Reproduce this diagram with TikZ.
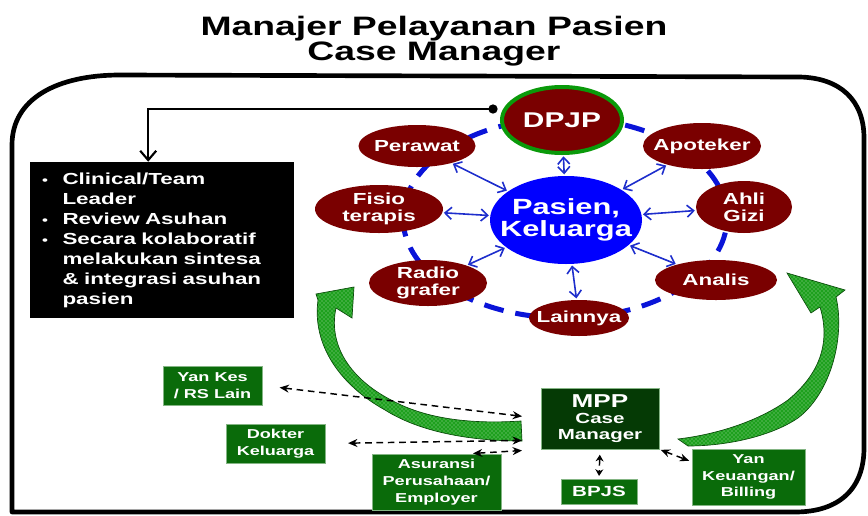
\documentclass[tikz,border=0pt]{standalone}
\usepackage{fontspec}
\setmainfont{Liberation Sans}[FakeStretch=1.4]
\usepackage{xcolor}
\usepackage{tikz}
\usetikzlibrary{arrows.meta, shapes.geometric, patterns}

\definecolor{staffred}{HTML}{7A0000}
\definecolor{pasienblue}{HTML}{0000FF}
\definecolor{ringblue}{HTML}{0A14D8}
\definecolor{spokeblue}{HTML}{1E2ECC}
\definecolor{dpjpgreen}{HTML}{0A9A0A}
\definecolor{boxgreen}{HTML}{0A6B0A}
\definecolor{mppgreen}{HTML}{053A05}
\definecolor{arrowgreen}{HTML}{1EA01E}
\definecolor{arrowdark}{HTML}{0A4A0A}

\begin{document}
\begin{tikzpicture}[x=0.75pt, y=-0.75pt,
    every node/.style={font=\bfseries, text=white},
    staff/.style={ellipse, fill=staffred, inner xsep=-8pt, inner ysep=0pt, align=center, font=\bfseries\fontsize{12}{13}\selectfont},
    spoke/.style={draw=spokeblue, line width=1.2pt, >={Straight Barb[length=5pt,width=9pt]}, <->, shorten >=1pt, shorten <=1pt},
    unit/.style={rectangle, fill=boxgreen, draw=boxgreen!50!white, line width=0.6pt, inner sep=0pt, align=center, font=\bfseries\fontsize{9.7}{12.5}\selectfont},
    link/.style={draw=black, dash pattern=on 5pt off 3.5pt, line width=1.1pt, >={Stealth[length=7pt,width=6pt]}, <->},
    curvearrow/.style={preaction={fill=arrowgreen}, pattern=crosshatch dots, pattern color=white!60!arrowgreen, draw=arrowdark, line width=0.5pt}
]
    \useasboundingbox (0,0) rectangle (868,515);

    % Title
    \node[text=black, font=\bfseries\fontsize{20}{19}\selectfont, align=center, inner sep=0pt] (title) at (434,41) {Manajer Pelayanan Pasien\\Case Manager};

    % Outer frame
    \draw[line width=3.5pt, line join=round] (12,512) -- (12,145) .. controls (12,98) and (58,75) .. (120,75) -- (800,77) .. controls (840,78) and (864,100) .. (864,138) -- (864,448) .. controls (864,488) and (840,512) .. (795,512) -- cycle;

    % Dashed ring of the care team
    \draw[ringblue, line width=3.75pt, dash pattern=on 15pt off 9pt] (565,218) ellipse [x radius=121.5pt, y radius=75pt];

    % Team members
    \node[staff, draw=dpjpgreen, line width=3pt, minimum width=90pt, minimum height=49.5pt, font=\bfseries\fontsize{16}{18}\selectfont] (dpjp) at (562,120) {DPJP};
    \node[staff, minimum width=87.75pt, minimum height=31.5pt] (perawat) at (417,146) {Perawat};
    \node[staff, minimum width=88.5pt, minimum height=34.5pt] (apoteker) at (702,146) {Apoteker};
    \node[staff, minimum width=96pt, minimum height=36pt] (fisio) at (379,209) {Fisio\\terapis};
    \node[staff, minimum width=72pt, minimum height=39pt] (gizi) at (744,207) {Ahli\\Gizi};
    \node[staff, minimum width=88.5pt, minimum height=34.5pt] (radio) at (428,283) {Radio\\grafer};
    \node[staff, minimum width=91.5pt, minimum height=30pt] (analis) at (716,280) {Analis};
    \node[staff, minimum width=75pt, minimum height=27pt] (lainnya) at (579,318) {Lainnya};
    \node[ellipse, fill=pasienblue, minimum width=114pt, minimum height=66pt, inner xsep=-10pt, inner ysep=0pt, align=center, font=\bfseries\fontsize{16.5}{16.5}\selectfont] (pasien) at (566,220) {Pasien,\\Keluarga};

    % Links patient <-> team
    \draw[spoke] (pasien) -- (dpjp);
    \draw[spoke] (pasien) -- (perawat);
    \draw[spoke] (pasien) -- (apoteker);
    \draw[spoke] (pasien) -- (fisio);
    \draw[spoke] (pasien) -- (gizi);
    \draw[spoke] (pasien) -- (radio);
    \draw[spoke] (pasien) -- (analis);
    \draw[spoke] (pasien) -- (lainnya);

    % Clinical leader box
    \node[fill=black, minimum width=198pt, minimum height=117pt, inner xsep=9pt, inner ysep=0pt, text width=180pt, align=left, font=\bfseries\fontsize{12}{15}\selectfont] (lead) at (162,240)
        {\begin{tabular}{@{}l@{\hspace{11pt}}l@{}}
            {\small\textbullet} & Clinical/Team\\
             & Leader\\
            {\small\textbullet} & Review Asuhan\\
            {\small\textbullet} & Secara kolaboratif\\
             & melakukan sintesa\\
             & \& integrasi asuhan\\
             & pasien
        \end{tabular}};
    \coordinate (hub) at (493,109);
    \fill (hub) circle [radius=3.5pt];
    \draw[line width=1.6pt, -{Straight Barb[length=7pt,width=12pt]}] (hub) -| (lead.100);

    % Curved green arrows
    \path[curvearrow] (316,294) -- (354,287) -- (352,318) -- (336,308) .. controls (328,345) and (350,380) .. (395,402) .. controls (430,420) and (475,424) .. (521,421) -- (522,441) .. controls (470,441) and (420,432) .. (385,410) .. controls (340,385) and (312,345) .. (318,300) -- cycle;
    \path[curvearrow] (787,273) -- (845,290) -- (836,297) .. controls (845,335) and (832,392) .. (798,418) .. controls (770,437) and (725,446) .. (688,446) -- (678,439) .. controls (720,434) and (760,420) .. (788,400) .. controls (822,372) and (830,340) .. (820,307) -- (811,313) -- cycle;

    % Case manager and partners
    \node[unit, fill=mppgreen, minimum width=88.5pt, minimum height=45.75pt, font=\bfseries\fontsize{11}{12}\selectfont] (mpp) at (600,418.5) {{\fontsize{14}{14}\selectfont MPP}\\Case\\Manager};
    \node[unit, minimum width=74.25pt, minimum height=29.25pt] (yankes) at (212.5,385.5) {Yan Kes\\/ RS Lain};
    \node[unit, minimum width=74.25pt, minimum height=29.25pt] (dokter) at (275.5,443.5) {Dokter\\Keluarga};
    \node[unit, minimum width=96.75pt, minimum height=42pt] (asuransi) at (436.5,482) {Asuransi\\Perusahaan/\\Employer};
    \node[unit, minimum width=57pt, minimum height=18.75pt, font=\bfseries\fontsize{11}{12}\selectfont] (bpjs) at (599,491.5) {BPJS};
    \node[unit, minimum width=84.75pt, minimum height=42pt] (keuangan) at (748.5,477) {Yan\\Keuangan/\\Billing};

    \draw[link, shorten <=13pt, shorten >=14pt] (yankes.east) -- (mpp.west);
    \draw[link, shorten <=17pt, shorten >=14pt] (dokter.east) -- (mpp.200);
    \draw[link, shorten <=2pt, shorten >=14pt] (asuransi.40) -- (mpp.south west);
    \draw[link, >={Stealth[length=5pt,width=6pt]}, shorten <=4pt, shorten >=2pt] (mpp.south) -- (bpjs.north);
    \draw[link, shorten <=1pt, shorten >=2pt] (mpp.south east) -- (keuangan.165);
\end{tikzpicture}
\end{document}
